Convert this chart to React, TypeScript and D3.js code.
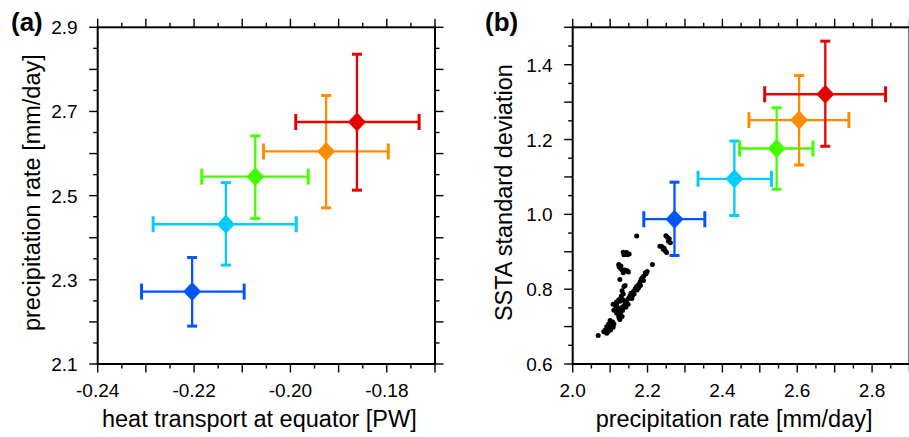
import React from "react";
import * as d3 from "d3";

const colors = ["#0055ff", "#00ccff", "#44ff00", "#ff8c00", "#e60000"];

// Panel (a) x: heat transport at equator [PW]
const heatMean = [-0.2204, -0.2134, -0.2073, -0.1926, -0.1862];
const heatLo = [-0.2309, -0.2285, -0.2184, -0.2056, -0.1989];
const heatHi = [-0.2096, -0.1988, -0.1963, -0.1797, -0.1733];

// Precipitation rate [mm/day] (panel a y, panel b x)
const precipMean = [2.272, 2.432, 2.545, 2.605, 2.675];
const precipLo = [2.19, 2.335, 2.446, 2.471, 2.513];
const precipHi = [2.353, 2.531, 2.642, 2.738, 2.836];

// SSTA standard deviation (panel b y)
const sstaMean = [0.987, 1.095, 1.176, 1.252, 1.321];
const sstaLo = [0.89, 0.997, 1.067, 1.132, 1.182];
const sstaHi = [1.086, 1.196, 1.285, 1.371, 1.463];

// scatter: precipitation rate
const scatterP = [
  2.249, 2.253, 2.258, 2.256, 2.261, 2.233, 2.238, 2.244, 2.247, 2.251, 2.242,
  2.171, 2.213,
  2.135, 2.14, 2.146, 2.151, 2.137, 2.144,
  2.123, 2.124, 2.128, 2.132, 2.139, 2.144, 2.149, 2.135,
  2.126, 2.14, 2.137, 2.132, 2.135, 2.13,
  2.199, 2.196, 2.19, 2.187, 2.183, 2.189, 2.18, 2.176, 2.181, 2.171, 2.167, 2.172,
  2.162, 2.156, 2.164, 2.153, 2.149, 2.158, 2.144, 2.14, 2.148, 2.137, 2.132, 2.142,
  2.126, 2.133, 2.121, 2.128, 2.123, 2.132, 2.126, 2.119, 2.114, 2.108, 2.117, 2.123,
  2.128, 2.135, 2.115, 2.11, 2.117, 2.124,
  2.1, 2.107, 2.11, 2.096, 2.103, 2.091, 2.098, 2.087, 2.094, 2.083, 2.091, 2.101, 2.108,
  2.068,
  2.142, 2.147, 2.129, 2.126, 2.121, 2.153, 2.176, 2.185, 2.194, 2.16, 2.118, 2.104, 2.095,
];
// scatter: SSTA standard deviation
const scatterS = [
  0.943, 0.939, 0.935, 0.928, 0.924, 0.915, 0.914, 0.91, 0.903, 0.898, 0.907,
  0.942, 0.866,
  0.899, 0.896, 0.892, 0.894, 0.892, 0.898,
  0.866, 0.86, 0.855, 0.851, 0.851, 0.85, 0.846, 0.844,
  0.826, 0.81, 0.807, 0.796, 0.787, 0.782,
  0.847, 0.841, 0.835, 0.832, 0.826, 0.823, 0.819, 0.812, 0.81, 0.807, 0.801, 0.798,
  0.794, 0.789, 0.787, 0.782, 0.775, 0.775, 0.769, 0.762, 0.76, 0.755, 0.752, 0.752,
  0.746, 0.743, 0.741, 0.736, 0.728, 0.727, 0.719, 0.752, 0.757, 0.76, 0.766, 0.771,
  0.775, 0.771, 0.748, 0.744, 0.736, 0.723,
  0.716, 0.712, 0.707, 0.707, 0.702, 0.7, 0.695, 0.691, 0.687, 0.686, 0.682, 0.691, 0.698,
  0.676,
  0.897, 0.848, 0.862, 0.768, 0.735, 0.778, 0.804, 0.829, 0.844, 0.783, 0.761, 0.703, 0.69,
];

const aXTickLabels = ["-0.24", "-0.22", "-0.20", "-0.18"];
const aYTickLabels = ["2.1", "2.3", "2.5", "2.7", "2.9"];
const bXTickLabels = ["2.0", "2.2", "2.4", "2.6", "2.8"];
const bYTickLabels = ["0.6", "0.8", "1.0", "1.2", "1.4"];

const FONT = "'Liberation Sans', Arial, Helvetica, sans-serif";

type PanelProps = {
  x0: number;
  x1: number;
  y0: number;
  y1: number;
  xDomain: [number, number];
  yDomain: [number, number];
  xStep: number;
  yStep: number;
  xLabels: string[];
  yLabels: string[];
  xTitle: string;
  yTitle: string;
  yTitleX: number;
  letter: string;
  letterX: number;
  xm: number[];
  xl: number[];
  xh: number[];
  ym: number[];
  yl: number[];
  yh: number[];
  scatterX?: number[];
  scatterY?: number[];
};

function Panel(p: PanelProps) {
  const xs = d3.scaleLinear().domain(p.xDomain).range([p.x0, p.x1]);
  const ys = d3.scaleLinear().domain(p.yDomain).range([p.y1, p.y0]);
  const nx = Math.round((p.xDomain[1] - p.xDomain[0]) / p.xStep);
  const ny = Math.round((p.yDomain[1] - p.yDomain[0]) / p.yStep);
  const xt = d3.range(nx + 1).map((i) => ({ v: p.xDomain[0] + i * p.xStep, major: i % 2 === 0 }));
  const yt = d3.range(ny + 1).map((i) => ({ v: p.yDomain[0] + i * p.yStep, major: i % 2 === 0 }));
  const MAJ = 8.5;
  const MIN = 4.5;
  const tickStroke = 1.4;
  const xLabelVals = p.xLabels.map((s) => +s);
  const yLabelVals = p.yLabels.map((s) => +s);
  const dx = 9;
  const dy = 9.5;
  const capH = 8; // half length of cap on horizontal bars
  const capV = 5; // half length of cap on vertical bars
  return (
    <g>
      {/* scatter */}
      {p.scatterX &&
        p.scatterY &&
        p.scatterX.map((v, i) => (
          <circle key={"s" + i} cx={xs(v)} cy={ys(p.scatterY![i])} r={2.5} fill="#000" />
        ))}
      {/* error bars */}
      {p.xm.map((v, i) => {
        const cx = xs(v);
        const cy = ys(p.ym[i]);
        const c = colors[i];
        return (
          <g key={"e" + i} stroke={c}>
            <line x1={xs(p.xl[i])} x2={xs(p.xh[i])} y1={cy} y2={cy} strokeWidth={2.3} />
            <line x1={xs(p.xl[i])} x2={xs(p.xl[i])} y1={cy - capH} y2={cy + capH} strokeWidth={3} />
            <line x1={xs(p.xh[i])} x2={xs(p.xh[i])} y1={cy - capH} y2={cy + capH} strokeWidth={3} />
            <line x1={cx} x2={cx} y1={ys(p.yl[i])} y2={ys(p.yh[i])} strokeWidth={2.3} />
            <line x1={cx - capV} x2={cx + capV} y1={ys(p.yl[i])} y2={ys(p.yl[i])} strokeWidth={3} />
            <line x1={cx - capV} x2={cx + capV} y1={ys(p.yh[i])} y2={ys(p.yh[i])} strokeWidth={3} />
            <path
              d={`M${cx},${cy - dy}L${cx + dx},${cy}L${cx},${cy + dy}L${cx - dx},${cy}Z`}
              fill={c}
              stroke="none"
            />
          </g>
        );
      })}
      {/* frame */}
      <rect x={p.x0} y={p.y0} width={p.x1 - p.x0} height={p.y1 - p.y0} fill="none" stroke="#000" strokeWidth={2} />
      {/* ticks */}
      <g stroke="#000" strokeWidth={tickStroke}>
        {xt.map((t, i) => {
          const x = xs(t.v);
          const L = t.major ? MAJ : MIN;
          return (
            <g key={"xt" + i}>
              <line x1={x} x2={x} y1={p.y1} y2={p.y1 + L} />
              <line x1={x} x2={x} y1={p.y0} y2={p.y0 - L} />
            </g>
          );
        })}
        {yt.map((t, i) => {
          const y = ys(t.v);
          const L = t.major ? MAJ : MIN;
          return (
            <g key={"yt" + i}>
              <line x1={p.x0} x2={p.x0 - L} y1={y} y2={y} />
              <line x1={p.x1} x2={p.x1 + L} y1={y} y2={y} />
            </g>
          );
        })}
      </g>
      {/* tick labels */}
      <g fontFamily={FONT} fontSize={19} fill="#000">
        {p.xLabels.map((s, i) => (
          <text key={"xl" + i} x={xs(xLabelVals[i])} y={p.y1 + 33} textAnchor="middle">
            {s}
          </text>
        ))}
        {p.yLabels.map((s, i) => (
          <text key={"yl" + i} x={p.x0 - 20} y={ys(yLabelVals[i]) + 7} textAnchor="end">
            {s}
          </text>
        ))}
      </g>
      {/* titles */}
      <text
        x={(p.x0 + p.x1) / 2 - 7}
        y={p.y1 + 63}
        textAnchor="middle"
        fontFamily={FONT}
        fontSize={23.5}
        fill="#000"
      >
        {p.xTitle}
      </text>
      <text
        transform={`translate(${p.yTitleX},${(p.y0 + p.y1) / 2 - 3}) rotate(-90)`}
        textAnchor="middle"
        fontFamily={FONT}
        fontSize={23.5}
        fill="#000"
      >
        {p.yTitle}
      </text>
      <text x={p.letterX} y={31} fontFamily={FONT} fontSize={26} fontWeight="bold" fill="#000">
        {p.letter}
      </text>
    </g>
  );
}

export default function App() {
  return (
    <svg
      width={909}
      height={437}
      style={{ position: "absolute", left: 0, top: 0, background: "#fff" }}
    >
      <rect x={0} y={0} width={909} height={437} fill="#fff" />
      <Panel
        x0={97.7}
        x1={435}
        y0={27.3}
        y1={364}
        xDomain={[-0.24, -0.17]}
        yDomain={[2.1, 2.9]}
        xStep={0.005}
        yStep={0.05}
        xLabels={aXTickLabels}
        yLabels={aYTickLabels}
        xTitle="heat transport at equator [PW]"
        yTitle="precipitation rate [mm/day]"
        yTitleX={40}
        letter="(a)"
        letterX={11}
        xm={heatMean}
        xl={heatLo}
        xh={heatHi}
        ym={precipMean}
        yl={precipLo}
        yh={precipHi}
      />
      <Panel
        x0={572.7}
        x1={909.5}
        y0={27.3}
        y1={364}
        xDomain={[2.0, 2.9]}
        yDomain={[0.6, 1.5]}
        xStep={0.05}
        yStep={0.05}
        xLabels={bXTickLabels}
        yLabels={bYTickLabels}
        xTitle="precipitation rate [mm/day]"
        yTitle="SSTA standard deviation"
        yTitleX={511.5}
        letter="(b)"
        letterX={485}
        xm={precipMean}
        xl={precipLo}
        xh={precipHi}
        ym={sstaMean}
        yl={sstaLo}
        yh={sstaHi}
        scatterX={scatterP}
        scatterY={scatterS}
      />
    </svg>
  );
}
